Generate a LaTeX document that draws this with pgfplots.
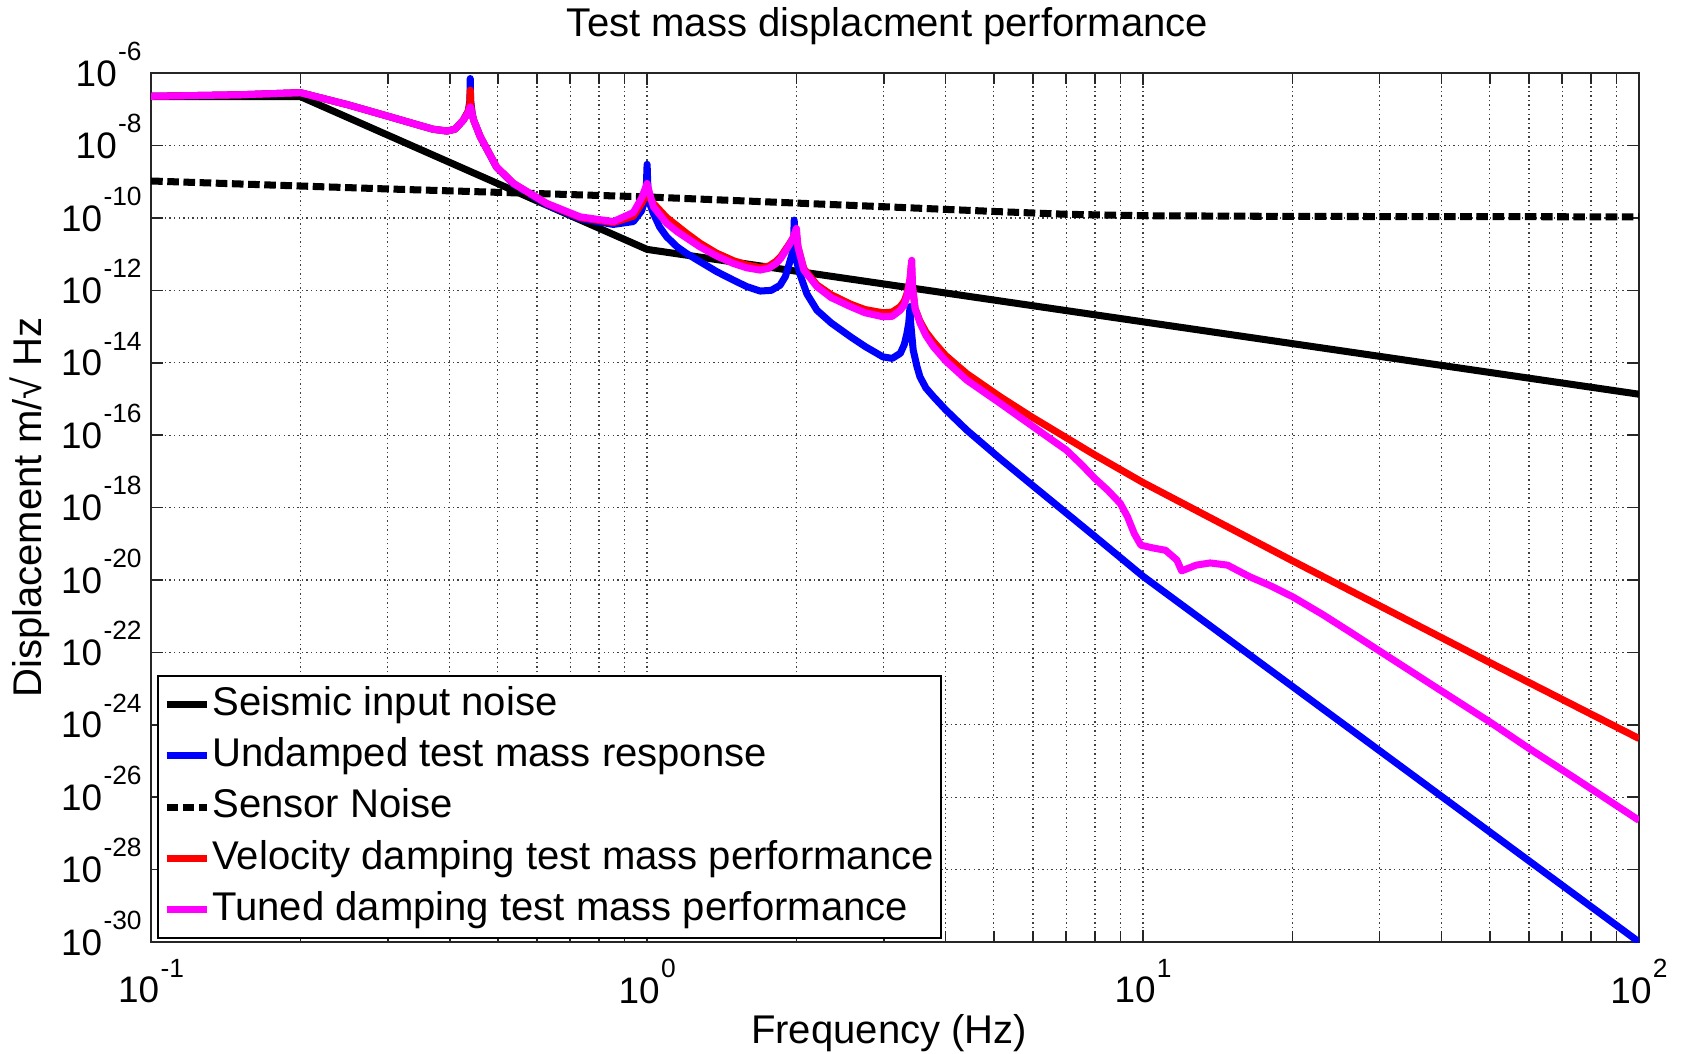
\documentclass[border=0pt]{standalone}
\usepackage{fontspec}
\setmainfont{Liberation Sans}
\usepackage{pgfplots}
\pgfplotsset{compat=1.18}
\definecolor{mmag}{RGB}{255,0,255}
\definecolor{mblue}{RGB}{0,0,255}
\definecolor{mred}{RGB}{255,0,0}
\newcommand{\tp}[1]{10\kern0.4pt\raisebox{0.7em}{\fontsize{7.5}{8}\selectfont #1}}

\begin{document}
\begin{tikzpicture}[font=\fontsize{11.4}{13.7}\selectfont]
\begin{axis}[
  at={(0pt,0pt)}, anchor=south west,
  scale only axis, width=423.3pt, height=247.2pt,
  xmode=log, ymode=log,
  xmin=0.1, xmax=100, ymin=1e-30, ymax=1e-6,
  xtick={0.1,1,10,100},
  xticklabels={\tp{-1},\tp{0},\tp{1},\tp{2}},
  minor xtick={0.2,0.3,0.4,0.5,0.6,0.7,0.8,0.9,2,3,4,5,6,7,8,9,20,30,40,50,60,70,80,90},
  ytick={1e-30,1e-28,1e-26,1e-24,1e-22,1e-20,1e-18,1e-16,1e-14,1e-12,1e-10,1e-8,1e-6},
  yticklabels={\tp{-30},\tp{-28},\tp{-26},\tp{-24},\tp{-22},\tp{-20},\tp{-18},\tp{-16},\tp{-14},\tp{-12},\tp{-10},\tp{-8},\tp{-6}},
  yminorticks=false,
  xmajorgrids=true, xminorgrids=true, ymajorgrids=true, yminorgrids=false,
  major grid style={black!75, line width=0.35pt, dash pattern=on 0.4pt off 0.9pt},
  minor grid style={black!75, line width=0.35pt, dash pattern=on 0.4pt off 0.9pt},
  axis line style={black!85, line width=0.45pt},
  tick style={black!85, line width=0.45pt},
  major tick length=3.5pt, minor tick length=3pt,
  tick align=inside,
  xticklabel style={font=\fontsize{10.5}{12}\selectfont, inner sep=0pt, anchor=north, yshift=-4.6pt},
  yticklabel style={font=\fontsize{10.5}{12}\selectfont, inner sep=0pt, anchor=base east, xshift=-2.5pt, yshift=-3.75pt},
  title={Test mass displacment performance},
  title style={at={(axis description cs:0.495,1.054)}, anchor=center, inner sep=0pt, yshift=-6pt},
  xlabel={Frequency (Hz)},
  xlabel style={at={(axis description cs:0.496,-0.1047)}, anchor=center, inner sep=0pt},
  ylabel={Displacement m/√ Hz},
  ylabel style={at={(axis description cs:-0.0813,0.5)}, anchor=center, inner sep=0pt},
  legend style={at={(0.004,0.0035)}, anchor=south west, draw=black, line width=0.45pt, fill=white,
    inner xsep=1.5pt, inner ysep=0.8pt, row sep=0pt, font=\fontsize{11.4}{13.7}\selectfont,
    nodes={inner sep=0.5pt, text height=9.9pt, text depth=3.7pt}},
  legend cell align=left,
  legend image code/.code={\draw[#1] (0pt,0pt) -- (11.5pt,0pt);},
]
% Seismic input noise
\addplot[black, line width=2pt, line join=round] coordinates {(0.1,2.24e-7) (0.2,2.24e-7) (1,1.35e-11) (100,1.35e-15)};
\addlegendentry{Seismic input noise}
% Undamped
\addplot[mblue, line width=2pt, line join=round] coordinates {
(0.1,2.29e-7) (0.15,2.51e-7) (0.2,2.88e-7) (0.25,1.32e-7) (0.3,6.46e-8) (0.343,3.80e-8)
(0.37,2.82e-8) (0.395,2.51e-8) (0.41,2.82e-8) (0.426,5.01e-8) (0.436,8.91e-8) (0.4393,1.78e-7) (0.44,7.08e-7)
(0.4407,1.78e-7) (0.444,7.59e-8) (0.447,5.01e-8) (0.461,1.74e-8) (0.497,2.51e-9) (0.538,8.51e-10)
(0.628,2.29e-10) (0.733,9.55e-11) (0.855,6.61e-11) (0.938,7.94e-11) (0.975,1.58e-10)
(0.995,3.98e-10) (1.0,3.02e-9) (1.005,3.98e-10) (1.015,2.24e-10) (1.03,1.32e-10) (1.06,5.62e-11)
(1.095,3.02e-11) (1.15,1.58e-11) (1.2,1.05e-11) (1.279,6.17e-12) (1.38,3.31e-12) (1.493,1.91e-12)
(1.59,1.26e-12) (1.69,9.55e-13) (1.78,1.0e-12) (1.854,1.38e-12) (1.9,2.40e-12) (1.927,4.47e-12)
(1.96,1.0e-11) (1.975,2.51e-11) (1.98,8.71e-11) (1.985,2.0e-11) (1.995,7.94e-12) (2.03,2.95e-12)
(2.1,7.94e-13) (2.2,2.82e-13) (2.35,1.26e-13) (2.57,5.25e-14) (2.75,2.82e-14) (2.99,1.45e-14)
(3.12,1.32e-14) (3.24,1.82e-14) (3.3,3.16e-14) (3.34,6.31e-14) (3.37,1.26e-13) (3.39,3.55e-13)
(3.40,1.26e-13) (3.44,2.24e-14) (3.5,7.94e-15) (3.55,4.07e-15) (3.65,2.0e-15) (3.78,1.15e-15)
(4.0,5.01e-16) (4.41,1.38e-16) (5.15,2.24e-17) (6.0,3.98e-18) (7.0,7.08e-19) (8.0,1.58e-19)
(10,1.26e-20) (100,1e-30)};
\addlegendentry{Undamped test mass response}
% Sensor noise
\addplot[black, line width=2pt, dash pattern=on 3.3pt off 1.3pt] coordinates {
(0.1,1.047e-9) (0.3,6.31e-10) (1,3.80e-10) (2,2.57e-10) (3,2.04e-10) (5,1.51e-10)
(7,1.26e-10) (10,1.15e-10) (20,1.10e-10) (100,1.07e-10)};
\addlegendentry{Sensor Noise}
% Velocity damping
\addplot[mred, line width=2pt, line join=round] coordinates {
(0.1,2.29e-7) (0.15,2.51e-7) (0.2,2.88e-7) (0.25,1.32e-7) (0.3,6.46e-8) (0.343,3.80e-8)
(0.37,2.82e-8) (0.395,2.51e-8) (0.41,2.82e-8) (0.426,5.01e-8) (0.436,8.91e-8) (0.439,1.41e-7) (0.44,3.39e-7)
(0.441,1.41e-7) (0.444,7.08e-8) (0.447,5.01e-8) (0.461,1.74e-8) (0.497,2.57e-9) (0.538,8.91e-10)
(0.628,2.45e-10) (0.733,1.02e-10) (0.855,7.41e-11) (0.938,1.12e-10) (0.975,2.51e-10)
(0.993,3.98e-10) (1.0,6.31e-10) (1.008,3.98e-10) (1.03,2.51e-10) (1.095,1.02e-10) (1.15,6.03e-11)
(1.2,3.80e-11) (1.279,2.0e-11) (1.38,1.07e-11) (1.493,6.61e-12) (1.59,5.01e-12) (1.69,4.27e-12)
(1.76,4.68e-12) (1.82,6.31e-12) (1.86,8.51e-12) (1.9,1.32e-11) (1.94,2.0e-11) (1.97,2.82e-11)
(1.995,4.47e-11) (2.015,1.58e-11) (2.07,3.98e-12) (2.2,1.41e-12) (2.35,7.59e-13) (2.57,4.17e-13)
(2.75,2.95e-13) (2.99,2.40e-13) (3.12,2.51e-13) (3.24,3.55e-13) (3.3,5.01e-13) (3.34,7.94e-13)
(3.39,2.0e-12) (3.41,5.01e-12) (3.43,1.26e-12) (3.47,3.16e-13) (3.55,1.41e-13) (3.65,7.08e-14)
(3.78,3.80e-14) (4.0,1.58e-14) (4.41,5.01e-15) (5.15,1.15e-15) (6.0,3.02e-16) (7.0,8.51e-17)
(8.0,2.82e-17) (10,4.90e-18) (20,3.39e-20) (50,5.25e-23) (100,4.17e-25)};
\addlegendentry{Velocity damping test mass performance}
% Tuned damping
\addplot[mmag, line width=2pt, line join=round] coordinates {
(0.1,2.29e-7) (0.15,2.51e-7) (0.2,2.88e-7) (0.25,1.32e-7) (0.3,6.46e-8) (0.343,3.80e-8)
(0.37,2.82e-8) (0.395,2.51e-8) (0.41,2.82e-8) (0.426,5.01e-8) (0.435,7.59e-8) (0.44,1.17e-7) (0.445,6.31e-8)
(0.447,5.01e-8) (0.461,1.74e-8) (0.497,2.57e-9) (0.538,8.91e-10) (0.628,2.51e-10) (0.733,1.07e-10)
(0.855,7.94e-11) (0.938,1.41e-10) (0.975,3.55e-10) (1.0,8.91e-10) (1.014,4.27e-10)
(1.03,2.04e-10) (1.095,7.08e-11) (1.15,4.17e-11) (1.2,2.82e-11) (1.279,1.58e-11) (1.38,8.91e-12)
(1.493,5.50e-12) (1.59,4.17e-12) (1.69,3.63e-12) (1.76,4.07e-12) (1.82,5.50e-12) (1.86,7.59e-12)
(1.9,1.20e-11) (1.94,1.91e-11) (1.97,2.82e-11) (2.0,5.13e-11) (2.015,1.58e-11) (2.07,3.63e-12)
(2.2,1.26e-12) (2.35,6.31e-13) (2.57,3.55e-13) (2.75,2.40e-13) (2.99,1.86e-13) (3.12,1.91e-13)
(3.24,2.82e-13) (3.3,3.98e-13) (3.34,6.61e-13) (3.39,2.0e-12) (3.417,6.76e-12) (3.43,1.26e-12)
(3.47,3.16e-13) (3.55,1.26e-13) (3.65,5.62e-14) (3.78,2.75e-14) (4.0,1.12e-14) (4.41,3.31e-15)
(5.15,7.59e-16) (6.01,1.70e-16) (6.5,7.94e-17) (7.0,3.89e-17) (7.5,1.58e-17) (8.0,6.31e-18)
(8.5,2.95e-18) (9.0,1.29e-18) (9.3,5.62e-19) (9.6,1.91e-19)
(9.9,9.12e-20) (10.5,7.59e-20) (11.1,6.61e-20) (11.7,3.55e-20) (11.96,1.78e-20) (12.8,2.57e-20)
(13.65,2.95e-20) (14.8,2.57e-20) (16.4,1.23e-20) (18,7.08e-21) (20,3.47e-21) (23,1.12e-21)
(26.1,3.72e-22) (29.8,1.15e-22)
(39.7,9.12e-24) (50,1.20e-24) (59.8,2.29e-25) (73.8,3.55e-26) (100,2.29e-27)};
\addlegendentry{Tuned damping test mass performance}
\end{axis}
\pgfresetboundingbox
\path[use as bounding box] (-43pt,-31.6pt) rectangle (436.1pt,268pt);
\end{tikzpicture}
\end{document}
